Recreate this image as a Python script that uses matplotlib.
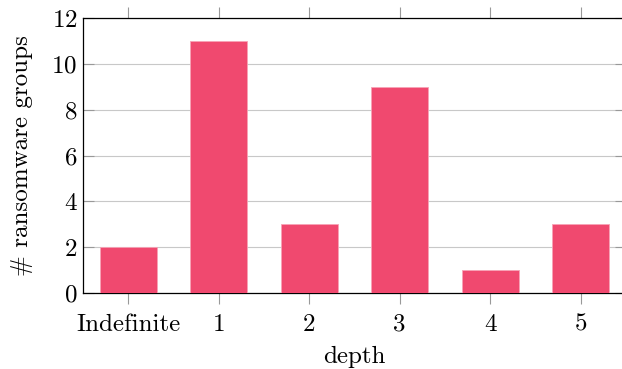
import matplotlib
matplotlib.use("Agg")
import matplotlib.pyplot as plt

categories = ["Indefinite", "1", "2", "3", "4", "5"]
counts = [2, 11, 3, 9, 1, 3]

plt.rcParams['font.family'] = ['cmr10', 'DejaVu Serif']
plt.rcParams['axes.formatter.use_mathtext'] = True
plt.rcParams['mathtext.fontset'] = 'cm'

fig = plt.figure(figsize=(6.22, 3.69), dpi=100)
# right edge of the box sits just past the image edge, as in the reference
ax = fig.add_axes([0.1334, 0.206, 0.873, 0.745])

x = list(range(len(categories)))
ax.bar(x, counts, width=0.63, color='#f0496f', edgecolor='#f7a3b6', linewidth=0.6, zorder=3)

ax.set_xlim(-0.5, 5.5)
ax.set_ylim(0, 12)
ax.set_yticks([0, 2, 4, 6, 8, 10, 12])
ax.set_xticks(x)
ax.set_xticklabels(categories)
ax.yaxis.grid(True, color='#c8c8c8', linewidth=0.8, zorder=0)
ax.set_axisbelow(True)

ax.tick_params(axis='x', direction='out', length=8, width=0.8, color='#999999',
               labelsize=18, pad=7, top=True)
ax.tick_params(axis='y', direction='in', length=8, width=0.8, color='#999999',
               labelsize=18, pad=4, right=True)
for s in ax.spines.values():
    s.set_linewidth(0.9)
    s.set_color('black')

ax.set_xlabel("depth", fontsize=18, labelpad=7)
ax.set_ylabel("# ransomware groups", fontsize=18, labelpad=13)

fig.savefig("out.png", dpi=100)
